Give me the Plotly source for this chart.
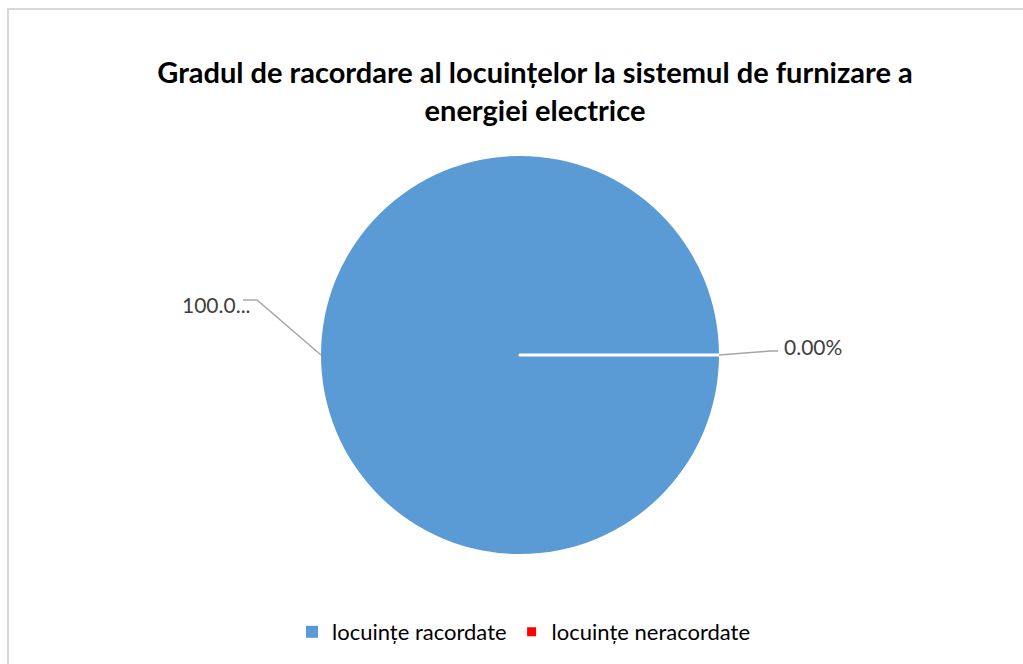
import plotly.graph_objects as go

# Share of dwellings connected to the electricity supply system
categories = ["locuințe racordate", "locuințe neracordate"]
values = [100, 0]
colors = ["#5B9BD5", "#FF0000"]

W, H = 1023, 664
# pie geometry in pixels
CX, CY, R = 520, 355, 199


def px(x):
    return x / W


def py(y):
    return 1 - y / H


total = sum(values)
pcts = [v / total * 100 for v in values]
full_labels = [f"{p:.2f}%" for p in pcts]
# the wide label does not fit in its box and gets cut off with an ellipsis
shown_labels = [t if len(t) <= 5 else t[:5] + "..." for t in full_labels]

FONT = "Lato, Carlito, Calibri, sans-serif"

fig = go.Figure(
    go.Pie(
        labels=categories,
        values=values,
        sort=False,
        direction="clockwise",
        rotation=90,
        textinfo="none",
        hoverinfo="label+percent",
        marker=dict(colors=colors, line=dict(color="white", width=[0, 3])),
        domain=dict(x=[px(CX - R), px(CX + R)], y=[py(CY + R), py(CY - R)]),
        showlegend=True,
    )
)

label_font = dict(family=FONT, size=21, color="#404040")
leader = dict(color="#A6A6A6", width=1.5)

# leader line and label for the first slice (west side)
wx, wy = CX - R, CY
fig.add_shape(type="path", xref="paper", yref="paper",
              path=f"M {px(wx)} {py(wy)} L {px(wx - 64)} {py(wy - 55)} L {px(wx - 78)} {py(wy - 55)}",
              line=leader)
fig.add_annotation(x=px(wx - 68), y=py(wy - 50), xref="paper", yref="paper",
                   text=shown_labels[0], showarrow=False, xanchor="right", yanchor="middle",
                   font=label_font)

# leader line and label for the second slice (east side)
ex, ey = CX + R, CY
fig.add_shape(type="path", xref="paper", yref="paper",
              path=f"M {px(ex)} {py(ey)} L {px(ex + 51)} {py(ey - 4)} L {px(ex + 59)} {py(ey - 4)}",
              line=leader)
fig.add_annotation(x=px(ex + 63), y=py(ey - 8), xref="paper", yref="paper",
                   text=shown_labels[1], showarrow=False, xanchor="left", yanchor="middle",
                   font=label_font)

# chart frame
fig.add_shape(type="rect", xref="paper", yref="paper",
              x0=px(8), x1=px(W + 20), y0=py(H + 20), y1=py(9),
              line=dict(color="#D9D9D9", width=2), layer="below")

fig.update_layout(
    width=W,
    height=H,
    margin=dict(l=0, r=0, t=0, b=0),
    paper_bgcolor="white",
    plot_bgcolor="white",
    title=dict(
        text="<b>Gradul de racordare al locuințelor la sistemul de furnizare a<br>energiei electrice</b>",
        x=px(535), y=py(83), xanchor="center", yanchor="middle",
        font=dict(family=FONT, size=29, color="#000000"),
    ),
    legend=dict(
        orientation="h", x=px(524), y=py(632), xanchor="center", yanchor="middle",
        font=dict(family=FONT, size=22, color="#000000"),
        itemclick=False,
    ),
)

fig.write_html("out.html")
